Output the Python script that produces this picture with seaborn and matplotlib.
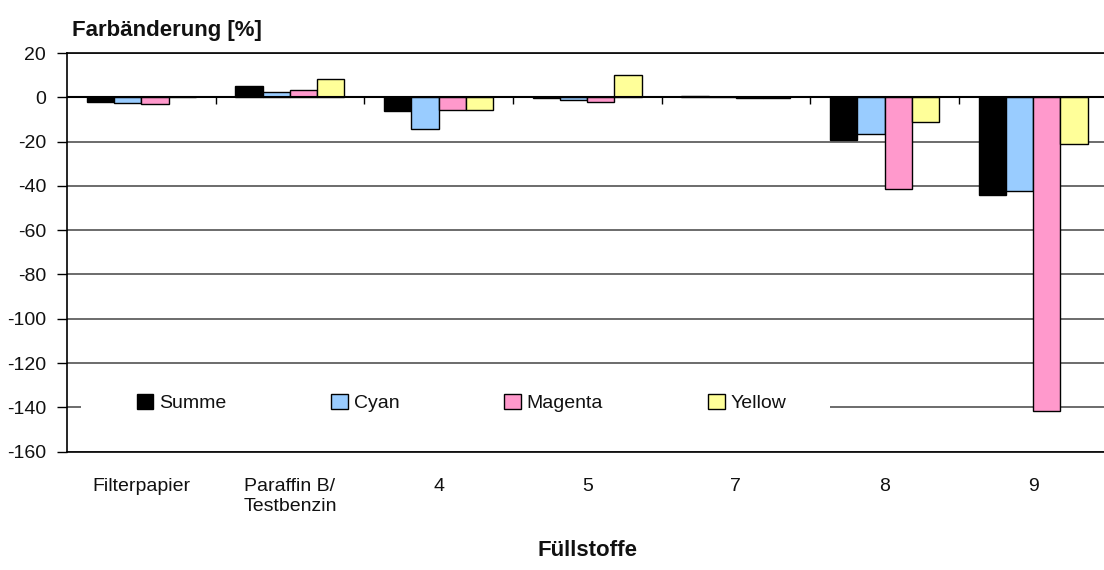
import numpy as np
import pandas as pd
import matplotlib
matplotlib.use("Agg")
import matplotlib.pyplot as plt
from matplotlib import font_manager
from matplotlib.patches import Rectangle
import seaborn as sns

# Colour change per filler and colour channel
categories = ["Filterpapier", "Paraffin B/\nTestbenzin", "4", "5", "7", "8", "9"]
series = ["Summe", "Cyan", "Magenta", "Yellow"]
summe = [-1.9, 4.9, -6.1, -0.2, 0.5, -19.5, -43.9]
cyan = [-2.6, 2.6, -14.3, -1.4, 0.0, -16.7, -42.5]
magenta = [-2.8, 3.1, -5.7, -1.9, -0.3, -41.3, -141.4]
yellow = [0.0, 8.4, -5.8, 10.2, -0.3, -11.1, -21.3]
yticks = list(range(-160, 21, 20))

colors = ["#000000", "#99CCFF", "#FF99CC", "#FFFF99"]

sns.set_theme(style="white")
available = {f.name for f in font_manager.fontManager.ttflist}
family = "Liberation Sans Narrow" if "Liberation Sans Narrow" in available else "Liberation Sans"
plt.rcParams["font.family"] = [family, "DejaVu Sans"]
plt.rcParams["axes.unicode_minus"] = False

df = pd.DataFrame({
    "Füllstoff": categories * 4,
    "Serie": np.repeat(series, len(categories)),
    "Wert": summe + cyan + magenta + yellow,
})

fig = plt.figure(figsize=(11.04, 5.70), dpi=100)
ax = fig.add_axes([67 / 1104, 118.3 / 570, 1040.5 / 1104, 398.7 / 570])

sns.barplot(data=df, x="Füllstoff", y="Wert", hue="Serie", order=categories,
            hue_order=series, palette=colors, width=0.733, edgecolor="black",
            linewidth=1.0, ax=ax, errorbar=None, saturation=1)

ax.set_ylim(-160, 20)
ax.set_xlim(-0.5, len(categories) - 0.5)
ax.set_yticks(yticks)
ax.set_yticklabels([str(v) for v in yticks])
ax.set_axisbelow(True)
ax.yaxis.grid(True, color="#444444", linewidth=1.1)
ax.xaxis.grid(False)

for side in ["left", "bottom", "top"]:
    ax.spines[side].set_visible(True)
    ax.spines[side].set_color("black")
    ax.spines[side].set_linewidth(1.2)
ax.spines["right"].set_visible(False)

ax.tick_params(axis="y", which="major", left=True, length=7, width=1,
               color="black", pad=8, labelsize=14, labelcolor="#111111")
ax.tick_params(axis="x", which="major", bottom=False, length=0, pad=19,
               labelsize=14, labelcolor="#111111")

# zero line with category separators hanging below it
ax.axhline(0, color="black", linewidth=1.5, zorder=3)
ax.vlines(np.arange(len(categories) - 1) + 0.5, 0, -3.2, color="black",
          linewidth=1.0, zorder=3)

ax.set_xlabel("Füllstoffe", fontsize=16, fontweight="bold", color="#111111",
              va="center")
ax.xaxis.set_label_coords(0.5, -0.2466)
ax.set_ylabel("Farbänderung [%]", fontsize=16, fontweight="bold",
              color="#111111", rotation=0, ha="left", va="center")
ax.yaxis.set_label_coords(0.005, 1.057)

# legend inside the plot on a white band
ax.add_patch(Rectangle((0.0135, 0.095), 0.72, 0.034, transform=ax.transAxes,
                       facecolor="white", edgecolor="none", zorder=0.8))
handles, labels = ax.get_legend_handles_labels()
ax.legend(handles, labels, loc="center left", bbox_to_anchor=(0.0578, 0.122),
          ncol=4, frameon=False, fontsize=14, borderpad=0, handlelength=0.85,
          handleheight=0.85, handletextpad=0.3, columnspacing=5.4,
          labelcolor="#111111")

fig.savefig("out.png", dpi=100)
